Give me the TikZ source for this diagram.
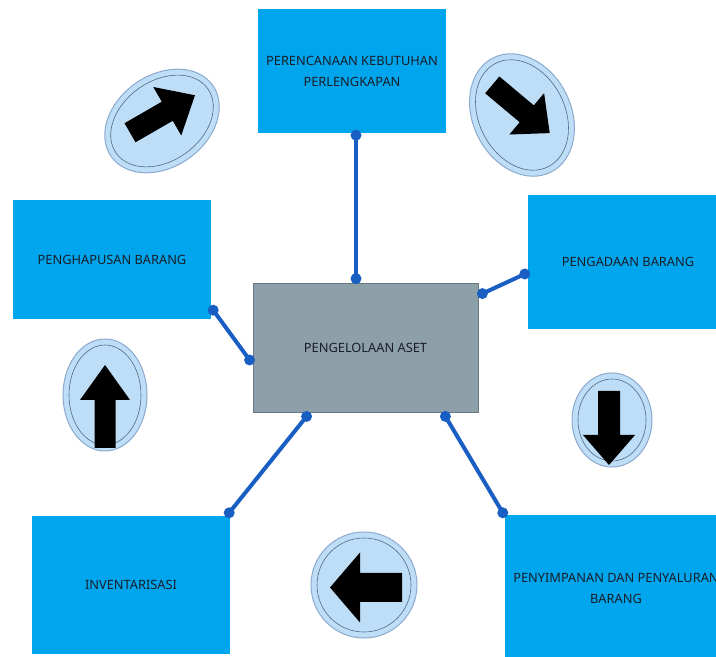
\documentclass[tikz,border=0pt]{standalone}
\usepackage{fontspec}
\setmainfont{Noto Sans}
\usetikzlibrary{calc}
\definecolor{boxblue}{RGB}{0,166,237}
\definecolor{boxgray}{RGB}{141,160,170}
\definecolor{grayedge}{RGB}{105,120,130}
\definecolor{conncol}{RGB}{25,95,195}
\definecolor{ovalfill}{RGB}{190,222,247}
\definecolor{ovaledge}{RGB}{140,170,205}
\definecolor{ovalinner}{RGB}{80,105,130}
\definecolor{txt}{RGB}{25,30,40}
\tikzset{
  boxbase/.style={rectangle, text=txt, font=\fontsize{12.8}{21}\selectfont, align=center, inner sep=0pt},
  bluebox/.style={boxbase, fill=boxblue},
  graybox/.style={boxbase, fill=boxgray, draw=grayedge, line width=0.8pt},
  conn/.style={draw=conncol, line width=4pt},
  conndot/.style={fill=conncol},
  ovalout/.style={fill=ovalfill, draw=ovaledge, line width=1pt},
  ovalin/.style={draw=ovalinner, line width=0.6pt},
  pics/bigarrow/.style n args={4}{code={
    \fill[black] (-#1/2,-#2/2) -- (#1/2-#4,-#2/2) -- (#1/2-#4,-#3/2) -- (#1/2,0)
      -- (#1/2-#4,#3/2) -- (#1/2-#4,#2/2) -- (-#1/2,#2/2) -- cycle;}}
}
\begin{document}
\begin{tikzpicture}[x=1pt,y=1pt]
\useasboundingbox (0,0) rectangle (716,657);
\fill[white] (0,0) rectangle (716,657);
\clip (0,0) rectangle (716,657);

% boxes
\node[bluebox, minimum width=188pt, minimum height=124pt] (top) at (352,586) {PERENCANAAN KEBUTUHAN\\PERLENGKAPAN};
\node[bluebox, minimum width=198pt, minimum height=119pt] (left) at (112,397.5) {PENGHAPUSAN BARANG};
\node[bluebox, minimum width=200pt, minimum height=134pt] (right) at (628,395) {PENGADAAN BARANG};
\node[graybox, minimum width=225pt, minimum height=129pt] (center) at (365.5,309.5) {PENGELOLAAN ASET};
\node[bluebox, minimum width=198pt, minimum height=138pt] (inv) at (131,72) {INVENTARISASI};
\node[bluebox, minimum width=222pt, minimum height=146pt] (pen) at (616,69) {PENYIMPANAN DAN PENYALURAN\\BARANG};

% connector end points
\coordinate (a1) at ($(top.south)+(4,-2)$);
\coordinate (b1) at ($(center.north)+(-9.5,4)$);
\coordinate (a2) at ($(right.west)+(-3,-12)$);
\coordinate (b2) at ($(center.north east)+(4,-11)$);
\coordinate (a3) at ($(left.south east)+(2,9)$);
\coordinate (b3) at ($(center.west)+(-3,-12.5)$);
\coordinate (a4) at ($(center.south west)+(54,-4)$);
\coordinate (b4) at ($(inv.north east)+(-1,3)$);
\coordinate (a5) at ($(center.south east)+(-33,-4)$);
\coordinate (b5) at ($(pen.north west)+(-2,2)$);

\foreach \p/\q in {a1/b1,a2/b2,a3/b3,a4/b4,a5/b5}{
  \draw[conn] (\p) -- (\q);
  \fill[conndot] (\p) circle (5.5);
  \fill[conndot] (\q) circle (5.5);
}

% oval signs
\begin{scope}[shift={(162,536)},rotate=35]
  \filldraw[ovalout] (0,0) ellipse [x radius=62, y radius=46];
  \draw[ovalin] (0,0) ellipse [x radius=56, y radius=40];
\end{scope}
\pic[rotate=30] at (162.5,543) {bigarrow={75}{22}{56}{32}};

\begin{scope}[shift={(522,542)},rotate=-63]
  \filldraw[ovalout] (0,0) ellipse [x radius=64, y radius=49];
  \draw[ovalin] (0,0) ellipse [x radius=58, y radius=43];
\end{scope}
\pic[rotate=-40] at (521,548) {bigarrow={75}{22}{54}{30}};

\begin{scope}[shift={(105,262)}]
  \filldraw[ovalout] (0,0) ellipse [x radius=42, y radius=56];
  \draw[ovalin] (0,0) ellipse [x radius=36, y radius=50];
\end{scope}
\pic[rotate=90] at (105,250.5) {bigarrow={83}{21}{50}{35}};

\begin{scope}[shift={(612,237)}]
  \filldraw[ovalout] (0,0) ellipse [x radius=40, y radius=47];
  \draw[ovalin] (0,0) ellipse [x radius=34, y radius=41];
\end{scope}
\pic[rotate=-90] at (609,229) {bigarrow={74}{22}{52}{30}};

\begin{scope}[shift={(364,72)}]
  \filldraw[ovalout] (0,0) circle (53);
  \draw[ovalin] (0,0) circle (47);
\end{scope}
\pic[rotate=180] at (366,69.5) {bigarrow={72}{29}{70}{30}};
\end{tikzpicture}
\end{document}
